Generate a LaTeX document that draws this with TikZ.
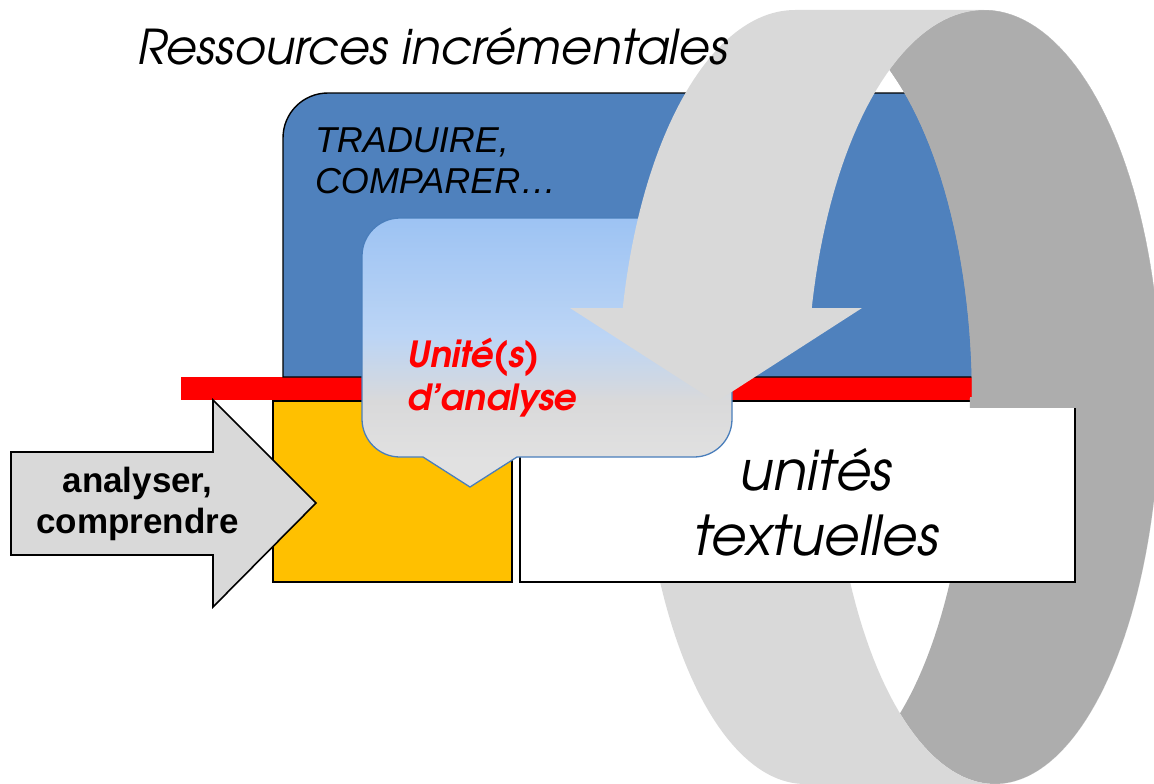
\documentclass[tikz,border=0pt]{standalone}
\usepackage{fontspec}
\setmainfont{Liberation Sans}
\newfontfamily\gothic{texgyreadventor}[Extension=.otf, UprightFont=*-regular, ItalicFont=*-italic, BoldFont=*-bold, BoldItalicFont=*-bolditalic]
\definecolor{pblue}{HTML}{4F81BD}
\definecolor{pyellow}{HTML}{FFC000}
\definecolor{plgray}{HTML}{D9D9D9}
\definecolor{pdgray}{HTML}{ADADAD}
\definecolor{cborder}{HTML}{4A7EBB}
\definecolor{ctop}{HTML}{9DC3F3}
\definecolor{cmid}{HTML}{BCD5F5}
\definecolor{ctrans}{HTML}{CCD7E6}
\definecolor{cgray}{HTML}{D9D9DA}
\definecolor{cbot}{HTML}{E1E1E1}
\pgfdeclareverticalshading{calloutshade}{100bp}{color(0bp)=(cbot); color(30bp)=(cbot); color(41bp)=(cgray); color(46bp)=(ctrans); color(53bp)=(cmid); color(75bp)=(ctop); color(100bp)=(ctop)}
\tikzset{
  lbl/.style={inner sep=0pt, outer sep=0pt},
  boxline/.style={draw=black, line width=1.4pt},
  eone/.style={insert path={plot[domain=180:360,samples=90] ({795+177*cos(\x)},{397+387*sin(\x)}) -- plot[domain=0:180,samples=90] ({805+165*cos(\x)},{397+387*sin(\x)}) -- cycle}},
  etwo/.style={insert path={plot[domain=180:360,samples=90] ({984+177*cos(\x)},{397+387*sin(\x)}) -- plot[domain=0:180,samples=90] ({995+165*cos(\x)},{397+387*sin(\x)}) -- cycle}},
  hull/.style={insert path={(795,10) -- (984,10) -- plot[domain=270:360,samples=60] ({984+177*cos(\x)},{397+387*sin(\x)}) -- plot[domain=0:90,samples=60] ({995+165*cos(\x)},{397+387*sin(\x)}) -- (805,784) -- plot[domain=90:180,samples=60] ({805+165*cos(\x)},{397+387*sin(\x)}) -- plot[domain=180:270,samples=60] ({795+177*cos(\x)},{397+387*sin(\x)}) -- cycle}},
}
\begin{document}
\begin{tikzpicture}[x=1pt,y=-1pt]
\useasboundingbox (0,0) rectangle (1154,784);
\begin{scope}
\clip (0,0) rectangle (1154,784);
% red bar
\fill[red] (181,377) rectangle (1000,400);
% blue box
\path[fill=pblue, boxline] (283,377) -- (283,138) .. controls (283,113) and (303,93) .. (328,93) -- (1000,93) -- (1000,377) -- cycle;
% yellow box
\path[fill=pyellow, boxline] (273,401) rectangle (512,582);
% left arrow
\path[fill=plgray, draw=black, line width=1.6pt] (11,452) -- (213,452) -- (213,400) -- (316,503) -- (213,607) -- (213,555) -- (11,555) -- cycle;
% dark gray inner surface
\begin{scope}
\clip[etwo];
\fill[pdgray, even odd rule] (0,0) rectangle (1200,800) [eone];
\end{scope}
% light gray band, lower part
\begin{scope}
\clip (0,450) rectangle (1200,800);
\fill[plgray, even odd rule, hull, etwo];
\end{scope}
% white box
\path[fill=white, boxline] (520,401) rectangle (1075,582);
% dark gray over the top of the white box
\begin{scope}
\clip (0,0) rectangle (1200,407);
\clip[etwo];
\fill[pdgray, even odd rule] (0,0) rectangle (1200,800) [eone];
\end{scope}
% callout
\shadedraw[shading=calloutshade, draw=cborder, line width=1.3pt] (362,256) -- (362,419) .. controls (362,440) and (379,457) .. (400,457) -- (423,457) -- (470,487) -- (517,457) -- (694,457) .. controls (715,457) and (732,440) .. (732,419) -- (732,256) .. controls (732,235) and (715,218) .. (694,218) -- (400,218) .. controls (379,218) and (362,235) .. (362,256) -- cycle;
% light gray band, upper part with arrow head
\begin{scope}
\clip (0,0) rectangle (1200,308.6);
\fill[plgray, even odd rule, hull, etwo];
\end{scope}
\fill[plgray] (570,308) -- (862,308) -- (716,402) -- cycle;
\end{scope}
% texts
\node[lbl, anchor=base west] (title) at (137,65) {\gothic\itshape\fontsize{48}{56}\selectfont Ressources incrémentales};
\node[lbl, anchor=base west] (trad1) at (315,152) {\itshape\fontsize{36}{42}\selectfont TRADUIRE,};
\node[lbl, anchor=base west] (trad2) at (315,193) {\itshape\fontsize{36}{42}\selectfont COMPARER…};
\node[lbl, anchor=base west, text=red] (ua1) at (407,367) {\gothic\bfseries\itshape\fontsize{36}{43}\selectfont Unité(s)};
\node[lbl, anchor=base west, text=red] (ua2) at (407,410) {\gothic\bfseries\itshape\fontsize{36}{43}\selectfont d’analyse};
\node[lbl, anchor=base] (an1) at (137.5,492) {\bfseries\fontsize{35}{42}\selectfont analyser,};
\node[lbl, anchor=base] (an2) at (137.5,533) {\bfseries\fontsize{35}{42}\selectfont comprendre};
\node[lbl, anchor=base] (ut1) at (816,490) {\gothic\itshape\fontsize{55}{64}\selectfont unités};
\node[lbl, anchor=base] (ut2) at (816,555) {\gothic\itshape\fontsize{55}{64}\selectfont textuelles};
\end{tikzpicture}
\end{document}
